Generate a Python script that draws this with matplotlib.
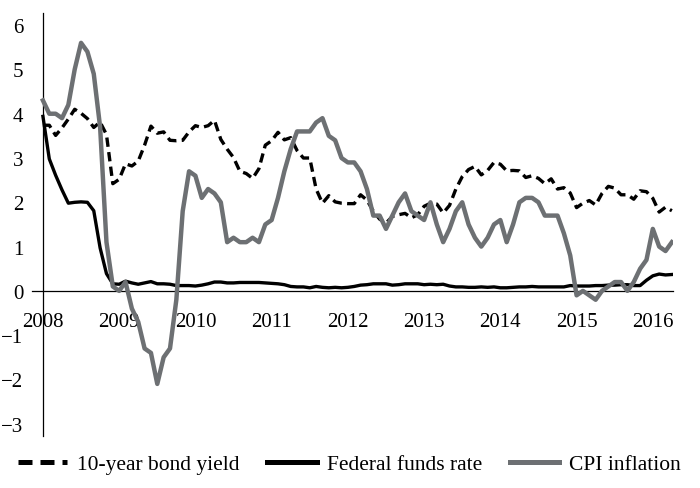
import numpy as np
import pandas as pd
import matplotlib
matplotlib.use("Agg")
import matplotlib.pyplot as plt

plt.rcParams['font.family'] = ['Liberation Serif', 'DejaVu Serif']

# --- Datos mensuales, enero 2008 - abril 2016 ---
months = pd.date_range("2008-01-01", periods=100, freq="MS")

bond_yield = [
    3.74, 3.74, 3.51, 3.68, 3.88, 4.10, 4.01, 3.89, 3.69, 3.81, 3.53, 2.42,
    2.52, 2.87, 2.82, 2.93, 3.29, 3.72, 3.56, 3.59, 3.40, 3.39, 3.40, 3.59,
    3.73, 3.69, 3.73, 3.85, 3.42, 3.20, 3.01, 2.70, 2.65, 2.54, 2.76, 3.29,
    3.39, 3.58, 3.41, 3.46, 3.17, 3.00, 3.00, 2.30, 1.98, 2.15, 2.01, 1.98,
    1.97, 1.97, 2.17, 2.05, 1.80, 1.62, 1.53, 1.68, 1.72, 1.75, 1.65, 1.72,
    1.91, 1.98, 1.96, 1.76, 1.93, 2.30, 2.58, 2.74, 2.81, 2.62, 2.72, 2.90,
    2.86, 2.71, 2.72, 2.71, 2.56, 2.60, 2.54, 2.42, 2.53, 2.30, 2.33, 2.21,
    1.88, 1.98, 2.04, 1.94, 2.20, 2.36, 2.32, 2.17, 2.17, 2.07, 2.26, 2.24,
    2.09, 1.78, 1.89, 1.81,
]

fed_funds = [
    3.94, 2.98, 2.61, 2.28, 1.98, 2.00, 2.01, 2.00, 1.81, 0.97, 0.39, 0.16,
    0.15, 0.22, 0.18, 0.15, 0.18, 0.21, 0.16, 0.16, 0.15, 0.12, 0.12, 0.12,
    0.11, 0.13, 0.16, 0.20, 0.20, 0.18, 0.18, 0.19, 0.19, 0.19, 0.19, 0.18,
    0.17, 0.16, 0.14, 0.10, 0.09, 0.09, 0.07, 0.10, 0.08, 0.07, 0.08, 0.07,
    0.08, 0.10, 0.13, 0.14, 0.16, 0.16, 0.16, 0.13, 0.14, 0.16, 0.16, 0.16,
    0.14, 0.15, 0.14, 0.15, 0.11, 0.09, 0.09, 0.08, 0.08, 0.09, 0.08, 0.09,
    0.07, 0.07, 0.08, 0.09, 0.09, 0.10, 0.09, 0.09, 0.09, 0.09, 0.09, 0.12,
    0.11, 0.11, 0.11, 0.12, 0.12, 0.13, 0.13, 0.14, 0.14, 0.12, 0.12, 0.24,
    0.34, 0.38, 0.36, 0.37,
]

cpi_inflation = [
    4.3, 4.0, 4.0, 3.9, 4.2, 5.0, 5.6, 5.4, 4.9, 3.7, 1.1, 0.1,
    0.0, 0.2, -0.4, -0.7, -1.3, -1.4, -2.1, -1.5, -1.3, -0.2, 1.8, 2.7,
    2.6, 2.1, 2.3, 2.2, 2.0, 1.1, 1.2, 1.1, 1.1, 1.2, 1.1, 1.5,
    1.6, 2.1, 2.7, 3.2, 3.6, 3.6, 3.6, 3.8, 3.9, 3.5, 3.4, 3.0,
    2.9, 2.9, 2.7, 2.3, 1.7, 1.7, 1.4, 1.7, 2.0, 2.2, 1.8, 1.7,
    1.6, 2.0, 1.5, 1.1, 1.4, 1.8, 2.0, 1.5, 1.2, 1.0, 1.2, 1.5,
    1.6, 1.1, 1.5, 2.0, 2.1, 2.1, 2.0, 1.7, 1.7, 1.7, 1.3, 0.8,
    -0.1, 0.0, -0.1, -0.2, 0.0, 0.1, 0.2, 0.2, 0.0, 0.2, 0.5, 0.7,
    1.4, 1.0, 0.9, 1.1,
]

years = list(range(2008, 2017))
y_ticks = [6, 5, 4, 3, 2, 1, 0, -1, -2, -3]

GRAY = '#6d7073'

t = months.year + (months.month - 1) / 12.0

fig = plt.figure(figsize=(7.0, 4.89), dpi=100)
ax = fig.add_axes([0.045, 0.106, 0.917, 0.865])

ax.plot(t, bond_yield, color='black', lw=2.4, linestyle=(0, (2.8, 1.6)),
        label='10-year bond yield', zorder=3)
ax.plot(t, fed_funds, color='black', lw=2.4, label='Federal funds rate', zorder=4)
ax.plot(t, cpi_inflation, color=GRAY, lw=3.2, label='CPI inflation', zorder=5)

ax.set_xlim(2007.85, 2016.27)
ax.set_ylim(-3.28, 6.27)

for s in ['top', 'right']:
    ax.spines[s].set_visible(False)
ax.spines['left'].set_position(('data', 2008))
ax.spines['bottom'].set_position(('data', 0))
ax.spines['left'].set_linewidth(0.9)
ax.spines['bottom'].set_linewidth(0.9)

ax.set_xticks(years)
ax.set_xticklabels([str(y) for y in years])
ax.set_yticks(y_ticks)
ax.tick_params(axis='both', length=0, labelsize=15)
ax.tick_params(axis='x', pad=15)
ax.tick_params(axis='y', pad=14)

leg = fig.legend(loc='center', bbox_to_anchor=(0.499, 0.049), ncol=3, frameon=False,
                 fontsize=15.5, handlelength=2.3, handletextpad=0.45,
                 columnspacing=1.3)
for h in leg.get_lines():
    h.set_linewidth(3.6)

fig.savefig('out.png', dpi=100)
